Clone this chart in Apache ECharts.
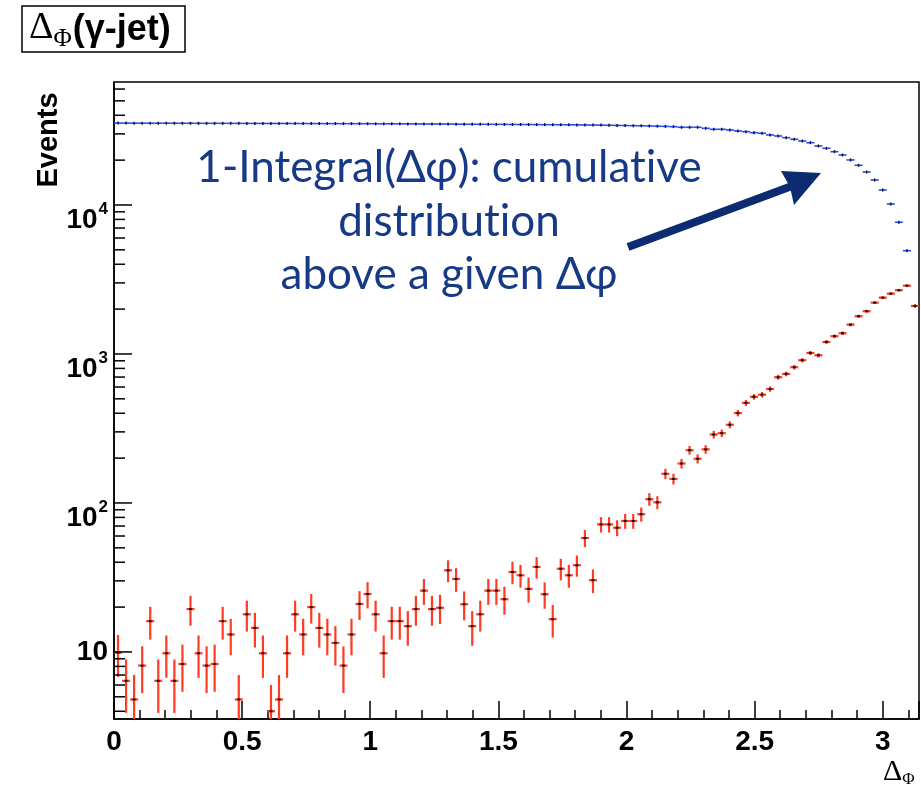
<!DOCTYPE html>
<html><head><meta charset="utf-8">
<script src="https://cdn.jsdelivr.net/npm/echarts@6/dist/echarts.min.js"></script>
<style>html,body{margin:0;padding:0;background:#fff}#c{width:921px;height:790px}</style>
</head><body><div id="c"></div>
<script>
// ---- data ----
const binCount = 100;
const xRange = [0, Math.PI];
const xTickLabels = ['0', '0.5', '1', '1.5', '2', '2.5', '3'];
const yRange = [3.548, 66900];
const yMajorTicks = [10, 100, 1000, 10000];
const yTickLabels = ['10', '{b|10}{sup|2}', '{b|10}{sup|3}', '{b|10}{sup|4}'];

// red: events per Δφ bin
const redValues = [
  9.9, 6.4, 4.8, 8.1, 16.1, 6.4, 9.8, 6.4, 8.3, 19.4,
  9.8, 8.1, 8.3, 16.1, 13.1, 4.8, 17.9, 14.5, 9.8, 4.0,
  4.8, 9.8, 17.9, 13.1, 20.0, 14.5, 13.1, 11.5, 8.1, 13.1,
  21.0, 24.5, 17.9, 9.8, 16.1, 16.1, 14.9, 19.4, 25.8, 19.4,
  19.8, 35.3, 30.9, 20.9, 14.9, 17.9, 25.8, 25.8, 22.6, 34.4,
  32.7, 26.5, 37.2, 24.4, 16.6, 36.2, 32.7, 38.2, 58.2, 30.3,
  71.8, 71.8, 68.2, 75.7, 75.7, 84, 106, 101, 157, 145,
  184, 226, 198, 229, 288, 294, 335, 401, 470, 516,
  533, 582, 698, 735, 815, 908, 1016, 980, 1204, 1316,
  1378, 1574, 1792, 1936, 2210, 2388, 2541, 2679, 2873, 2100
];
const redErrors = [
  3.1, 2.5, 2.2, 2.8, 4.0, 2.5, 3.1, 2.5, 2.9, 4.4,
  3.1, 2.8, 2.9, 4.0, 3.6, 2.2, 4.2, 3.8, 3.1, 2.0,
  2.2, 3.1, 4.2, 3.6, 4.5, 3.8, 3.6, 3.4, 2.8, 3.6,
  4.6, 4.9, 4.2, 3.1, 4.0, 4.0, 3.9, 4.4, 5.1, 4.4,
  4.4, 5.9, 5.6, 4.6, 3.9, 4.2, 5.1, 5.1, 4.8, 5.9,
  5.7, 5.1, 6.1, 4.9, 4.1, 6.0, 5.7, 6.2, 7.6, 5.5,
  8.5, 8.5, 8.3, 8.7, 8.7, 9.2, 10.3, 10.0, 12.5, 12.0,
  13.6, 15.0, 14.1, 15.1, 17.0, 17.1, 18.3, 20.0, 21.7, 22.7,
  23.1, 24.1, 26.4, 27.1, 28.5, 30.1, 31.9, 31.3, 34.7, 36.3,
  37.1, 39.7, 42.3, 44.0, 47.0, 48.9, 50.4, 51.8, 53.6, 45.8
];
// blue: 1 - integral (events above a given Δφ)
const blueValues = [
  35450, 35440, 35430, 35430, 35420, 35400, 35400, 35390, 35380, 35370,
  35350, 35340, 35340, 35330, 35310, 35300, 35290, 35280, 35260, 35250,
  35250, 35240, 35230, 35220, 35200, 35180, 35170, 35160, 35140, 35140,
  35120, 35100, 35080, 35060, 35050, 35030, 35020, 35000, 34980, 34960,
  34940, 34920, 34880, 34850, 34830, 34820, 34800, 34770, 34750, 34720,
  34690, 34660, 34630, 34590, 34570, 34550, 34520, 34480, 34440, 34390,
  34360, 34280, 34210, 34140, 34070, 33990, 33910, 33800, 33700, 33540,
  33230, 33230, 33230, 32720, 32210, 32210, 31870, 31380, 31040, 30560,
  30280, 29500, 29040, 28290, 27600, 26880, 26190, 24890, 24020, 22790,
  21660, 20050, 18470, 16650, 14720, 12610, 10150, 7655, 4935, 2100
];
// \u200c keeps the "ti" letters from merging into a ligature
const annotationLines = ['1-Integral(\u0394\u03c6): cumulat\u200cive', 'distribut\u200cion', 'above a given \u0394\u03c6'];
const yTitle = 'Events';

// ---- build ----
const binWidth = (xRange[1] - xRange[0]) / binCount;
const redData = redValues.map((v, i) => [xRange[0] + (i + 0.5) * binWidth, v, redErrors[i], binWidth / 2]);
const blueData = blueValues.map((v, i) => [xRange[0] + (i + 0.5) * binWidth, v, binWidth / 2]);

const tickData = [];
for (let e = 0; e <= 4; e++) {
  for (let m = 1; m <= 9; m++) {
    const v = m * Math.pow(10, e);
    if (v > yRange[0] && v < yRange[1]) tickData.push([xRange[0], v, m === 1 ? 18 : 11]);
  }
}

const RED = '#ff3b22';
const BLUE = '#2447ff';
const LABEL_FONT = 28;

const chart = echarts.init(document.getElementById('c'), null, {renderer: 'canvas', width: 921, height: 790});
const option = {
  animation: false,
  backgroundColor: '#fff',
  grid: {left: 114, right: 2, top: 82, bottom: 71, show: true, borderColor: '#000', borderWidth: 1.5, backgroundColor: 'transparent'},
  xAxis: {
    type: 'value', min: xRange[0], max: xRange[1], interval: 0.5,
    axisLine: {show: true, onZero: false, lineStyle: {color: '#000', width: 1.5}},
    axisTick: {show: true, inside: true, length: 18, lineStyle: {color: '#000', width: 1.5}},
    minorTick: {show: true, splitNumber: 5, length: 9, lineStyle: {color: '#000', width: 1.5}},
    splitLine: {show: false},
    axisLabel: {
      show: true, showMaxLabel: false, color: '#000', fontFamily: 'Liberation Sans', fontWeight: 'bold', fontSize: LABEL_FONT, margin: 9,
      formatter: function (v) { const i = Math.round(v / 0.5); return (Math.abs(v - i * 0.5) < 1e-9 && xTickLabels[i] !== undefined) ? xTickLabels[i] : ''; }
    }
  },
  yAxis: {
    type: 'log', logBase: 10, min: yRange[0], max: yRange[1],
    axisLine: {show: true, onZero: false, lineStyle: {color: '#000', width: 1.5}},
    axisTick: {show: false},
    minorTick: {show: false},
    splitLine: {show: false},
    axisLabel: {
      show: true, showMinLabel: false, showMaxLabel: false, color: '#000', fontFamily: 'Liberation Sans', fontWeight: 'bold', fontSize: LABEL_FONT, margin: 6, lineHeight: 30,
      formatter: function (v) {
        const l = Math.log10(v); const e = Math.round(l);
        if (Math.abs(l - e) > 1e-6) return '';
        const idx = yMajorTicks.indexOf(Math.pow(10, e));
        return idx >= 0 ? yTickLabels[idx] : '';
      },
      rich: {
        b: {fontFamily: 'Liberation Sans', fontWeight: 'bold', fontSize: LABEL_FONT, color: '#000', lineHeight: 26, padding: [14, 0, 0, 0], verticalAlign: 'top'},
        sup: {fontFamily: 'Liberation Sans', fontWeight: 'bold', fontSize: 17, color: '#000', verticalAlign: 'top', lineHeight: 16, padding: [9, 0, 0, 1]}
      }
    }
  },
  series: [
    {
      type: 'custom', name: 'ticks', data: tickData, clip: false, silent: true, z: 5,
      renderItem: function (params, api) {
        const p = api.coord([api.value(0), api.value(1)]);
        const len = api.value(2);
        return {type: 'line', shape: {x1: p[0], y1: p[1], x2: p[0] + len, y2: p[1]}, style: {stroke: '#000', lineWidth: 1.5}};
      }
    },
    {
      type: 'custom', name: 'blue', data: blueData, clip: true, silent: true, z: 3,
      renderItem: function (params, api) {
        const x = api.value(0), v = api.value(1), hw = api.value(2);
        const c = api.coord([x, v]);
        const l = api.coord([x - hw, v]);
        const r = api.coord([x + hw, v]);
        return {type: 'group', children: [
          {type: 'line', shape: {x1: l[0], y1: c[1], x2: r[0], y2: c[1]}, style: {stroke: BLUE, lineWidth: 1.6}},
          {type: 'rect', shape: {x: c[0] - 0.7, y: c[1] - 1.5, width: 1.4, height: 3}, style: {fill: '#111'}}
        ]};
      }
    },
    {
      type: 'custom', name: 'red', data: redData, clip: true, silent: true, z: 4,
      renderItem: function (params, api) {
        const x = api.value(0), v = api.value(1), e = api.value(2), hw = api.value(3);
        const c = api.coord([x, v]);
        const l = api.coord([x - hw, v]);
        const r = api.coord([x + hw, v]);
        const t = api.coord([x, v + e]);
        const b = api.coord([x, Math.max(v - e, 0.01)]);
        return {type: 'group', children: [
          {type: 'line', shape: {x1: c[0], y1: t[1], x2: c[0], y2: b[1]}, style: {stroke: RED, lineWidth: 2.2}},
          {type: 'line', shape: {x1: l[0], y1: c[1], x2: r[0], y2: c[1]}, style: {stroke: RED, lineWidth: 2.2}},
          {type: 'rect', shape: {x: c[0] - 1.5, y: c[1] - 1, width: 3, height: 2}, style: {fill: '#111'}}
        ]};
      }
    }
  ],
  graphic: [
    {type: 'rect', shape: {x: 22, y: 6, width: 163, height: 46}, style: {fill: '#fff', stroke: '#000', lineWidth: 1.5}, z: 10},
    {type: 'text', x: 29, y: 30, z: 11, style: {
      text: '{d|\u0394}{s|\u03a6}{b|(\u03b3-jet)}', textVerticalAlign: 'middle', textAlign: 'left',
      rich: {
        d: {fontFamily: 'Liberation Serif', fontSize: 38, lineHeight: 44, fill: '#000', padding: [0, 0, 4, 0]},
        s: {fontFamily: 'Liberation Serif', fontSize: 25, lineHeight: 24, fill: '#000', verticalAlign: 'bottom', padding: [0, 1, 0, 0]},
        b: {fontFamily: 'Liberation Sans', fontWeight: 'bold', fontSize: 36, lineHeight: 44, fill: '#000'}
      }}},
    {type: 'text', x: 49, y: 140, rotation: Math.PI / 2, z: 11, style: {
      text: yTitle, fontFamily: 'Liberation Sans', fontWeight: 'bold', fontSize: 29, fill: '#000', textAlign: 'center', textVerticalAlign: 'middle'}},
    {type: 'text', x: 883, y: 772, z: 11, style: {
      text: '{d|\u0394}{s|\u03a6}', textVerticalAlign: 'middle', textAlign: 'left',
      rich: {
        d: {fontFamily: 'Liberation Serif', fontSize: 30, lineHeight: 32, fill: '#000'},
        s: {fontFamily: 'Liberation Serif', fontSize: 17, lineHeight: 16, fill: '#000', verticalAlign: 'bottom'}
      }}},
    {type: 'text', x: 449, y: 168, z: 12, style: {text: annotationLines[0], font: '44px Lato', fill: '#163a86', textAlign: 'center', textVerticalAlign: 'middle'}},
    {type: 'text', x: 449, y: 222, z: 12, style: {text: annotationLines[1], font: '44px Lato', fill: '#163a86', textAlign: 'center', textVerticalAlign: 'middle'}},
    {type: 'text', x: 449, y: 275, z: 12, style: {text: annotationLines[2], font: '44px Lato', fill: '#163a86', textAlign: 'center', textVerticalAlign: 'middle'}},
    {type: 'line', shape: {x1: 628, y1: 247, x2: 792, y2: 186}, style: {stroke: '#0d2b70', lineWidth: 8}, z: 12},
    {type: 'polygon', shape: {points: [[821, 173], [781, 171], [790, 187], [794, 205]]}, style: {fill: '#0d2b70'}, z: 12}
  ]
};
chart.setOption(option);
</script>
</body></html>
